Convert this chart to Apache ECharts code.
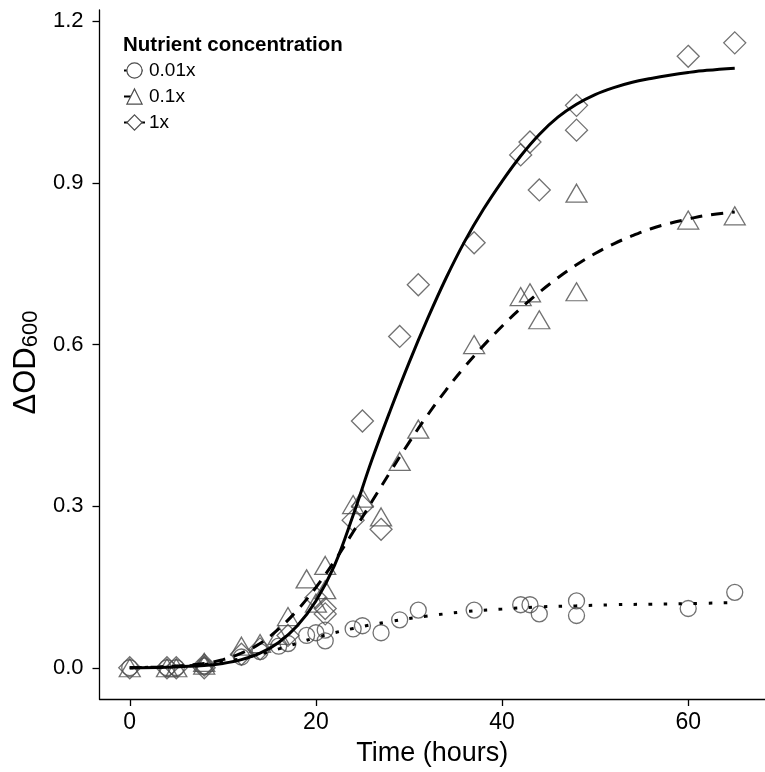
<!DOCTYPE html>
<html>
<head>
<meta charset="utf-8">
<script src="https://cdn.jsdelivr.net/npm/echarts@6/dist/echarts.min.js"></script>
<style>html,body{margin:0;padding:0;background:#fff;}#c{width:765px;height:772px;}</style>
</head>
<body>
<div id="c"></div>
<script>
const seriesNames = ['0.01x', '0.1x', '1x'];
const xTicks = [0, 20, 40, 60];
const yTicks = [0, 0.3, 0.6, 0.9, 1.2];

// observed points [time (h), dOD600]
const pts001 = [[0,0],[4,0],[5,0],[8,0.003],[12,0.02],[14,0.03],[16,0.04],[17,0.045],[19,0.06],[20,0.065],[21,0.05],[21,0.07],[24,0.072],[25,0.078],[27,0.065],[29,0.089],[31,0.107],[37,0.107],[42,0.117],[43,0.117],[44,0.1],[48,0.124],[48,0.097],[60,0.11],[65,0.14]];
const pts01 = [[0,0],[4,0],[5,0],[8,0.005],[8,0.01],[12,0.04],[14,0.045],[16,0.06],[17,0.095],[19,0.165],[20,0.12],[21,0.19],[21,0.145],[24,0.303],[25,0.315],[27,0.28],[29,0.383],[31,0.443],[37,0.6],[42,0.689],[43,0.696],[44,0.646],[48,0.698],[48,0.881],[60,0.831],[65,0.839]];
const pts1 = [[0,0],[4,0],[5,0],[8,0],[8,0.005],[12,0.025],[14,0.035],[17,0.06],[20,0.13],[21,0.11],[21,0.1],[24,0.274],[25,0.458],[25,0.3],[27,0.257],[29,0.615],[31,0.711],[37,0.789],[42,0.952],[43,0.976],[44,0.887],[48,1.044],[48,0.998],[60,1.135],[65,1.16]];

// fitted curves
const fit001 = [[0,0],[4,0.002],[8,0.006],[12,0.017],[16,0.035],[20,0.056],[24,0.073],[28,0.086],[32,0.096],[36,0.104],[40,0.109],[44,0.113],[48,0.115],[52,0.117],[56,0.118],[60,0.119],[65,0.121]];
const fit01 = [[0,0],[4,0.002],[8,0.008],[10,0.015],[12,0.027],[14,0.045],[16,0.072],[18,0.107],[20,0.149],[22,0.198],[24,0.252],[26,0.308],[28,0.364],[30,0.418],[32,0.469],[34,0.516],[36,0.559],[38,0.598],[40,0.634],[42,0.667],[44,0.697],[46,0.724],[48,0.748],[50,0.769],[52,0.787],[54,0.802],[56,0.815],[58,0.825],[60,0.833],[62,0.84],[65,0.846]];
const fit1 = [[0,0],[4,0.001],[8,0.004],[10,0.008],[12,0.015],[14,0.027],[16,0.047],[18,0.078],[20,0.124],[22,0.19],[24,0.283],[26,0.385],[28,0.478],[30,0.566],[32,0.648],[34,0.724],[36,0.792],[38,0.851],[40,0.903],[42,0.95],[44,0.99],[46,1.022],[48,1.046],[50,1.064],[52,1.077],[54,1.087],[56,1.094],[58,1.1],[60,1.105],[62,1.109],[65,1.113]];

const FONT = 'Liberation Sans, Arial, sans-serif';
const markerStyle = {color: 'rgba(0,0,0,0)', borderColor: '#4d4d4d', borderWidth: 1.3};

function fitSeries(name, data, symbol, lineType) {
  return {
    name: name, type: 'line', data: data, z: 5,
    smooth: 0.4,
    symbol: symbol, showSymbol: false, silent: true,
    itemStyle: {color: '#fff', borderColor: '#4d4d4d', borderWidth: 1.2},
    lineStyle: {color: '#000', width: 3, type: lineType, cap: 'butt'}
  };
}
function ptSeries(name, data, symbol, size) {
  return {
    name: name, type: 'scatter', data: data, z: 2,
    symbol: symbol, symbolSize: size, itemStyle: markerStyle, silent: true
  };
}

const chart = echarts.init(document.getElementById('c'), null, {renderer: 'canvas'});
chart.setOption({
  animation: false,
  backgroundColor: '#fff',
  grid: {left: 99.5, top: 10, width: 671, height: 690},
  title: {
    text: 'Nutrient concentration', left: 123, top: 35, padding: 0,
    textStyle: {fontFamily: FONT, fontSize: 20.5, fontWeight: 'bold', color: '#000'}
  },
  legend: {
    data: seriesNames, orient: 'vertical', left: 123, top: 61,
    itemWidth: 21, itemHeight: 19, itemGap: 7, padding: 0,
    textStyle: {fontFamily: FONT, fontSize: 19, color: '#000', padding: [0,0,0,-1]},
    itemStyle: {color: '#fff', borderColor: '#4d4d4d', borderWidth: 1.2},
    selectedMode: false
  },
  xAxis: {
    type: 'value', min: -3.25, max: 68.25,
    name: 'Time (hours)', nameLocation: 'middle', nameGap: 41,
    nameTextStyle: {fontFamily: FONT, fontSize: 27, color: '#000'},
    splitLine: {show: false},
    axisLine: {onZero: false, lineStyle: {color: '#000', width: 1.3}},
    axisTick: {show: true, length: 7, lineStyle: {color: '#000', width: 1.3}, customValues: xTicks},
    axisLabel: {fontFamily: FONT, fontSize: 23, color: '#000', margin: 12, customValues: xTicks}
  },
  yAxis: {
    type: 'value', min: -0.058, max: 1.221,
    name: '{m|ΔOD}{s|600}', nameLocation: 'middle', nameGap: 56, nameRotate: 90,
    nameTextStyle: {
      padding: [0, 16, 0, 0],
      rich: {
        m: {fontFamily: FONT, fontSize: 31, color: '#000', verticalAlign: 'bottom', lineHeight: 32},
        s: {fontFamily: FONT, fontSize: 22, color: '#000', verticalAlign: 'bottom', lineHeight: 24}
      }
    },
    splitLine: {show: false},
    axisLine: {onZero: false, lineStyle: {color: '#000', width: 1.3}},
    axisTick: {show: true, length: 7, lineStyle: {color: '#000', width: 1.3}, customValues: yTicks},
    axisLabel: {fontFamily: FONT, fontSize: 22, color: '#000', margin: 16, customValues: yTicks,
      formatter: v => v.toFixed(1)}
  },
  series: [
    fitSeries('0.01x', fit001, 'circle', [3.5, 11.5]),
    fitSeries('0.1x', fit01, 'triangle', [12, 9]),
    fitSeries('1x', fit1, 'diamond', 'solid'),
    ptSeries('pts 0.01x', pts001, 'circle', 16),
    ptSeries('pts 0.1x', pts01, 'triangle', [21, 18]),
    ptSeries('pts 1x', pts1, 'diamond', [22, 22])
  ]
});
</script>
</body>
</html>
